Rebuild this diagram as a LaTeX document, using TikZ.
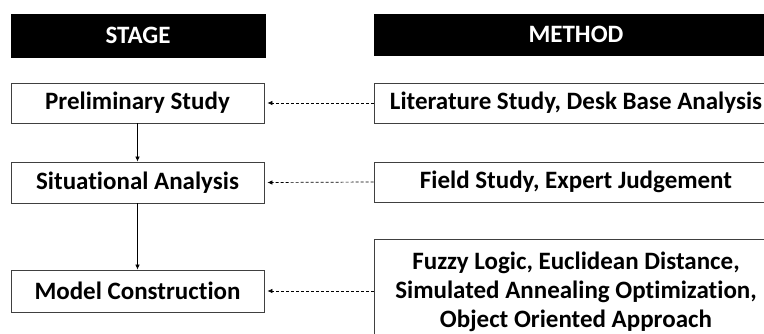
\documentclass[tikz,border=0pt]{standalone}
\usepackage{fontspec}
\setmainfont{Carlito}[Ligatures=NoCommon]
\usetikzlibrary{arrows.meta}
\begin{document}
\begin{tikzpicture}[x=1pt,y=-1pt,
  hdr/.style={fill=black, draw=black, text=white, font=\bfseries\fontsize{25}{28}\selectfont, inner sep=0pt},
  stagebox/.style={draw=black!75, line width=0.8pt, fill=white, font=\bfseries\fontsize{25}{28}\selectfont, inner sep=0pt},
  methbox/.style={draw=black!75, line width=0.8pt, fill=white, font=\bfseries\fontsize{25}{28}\selectfont, inner sep=0pt, align=center},
  flow/.style={-{Latex[length=5pt,width=4.5pt]}, line width=0.7pt},
  feed/.style={-{Latex[length=5pt,width=4.5pt]}, line width=0.7pt, dash pattern=on 3pt off 2pt}]
\useasboundingbox (0,0) rectangle (764,334);
\clip (0,0) rectangle (764,334);
% headers
\node[hdr, minimum width=254pt, minimum height=43pt] (stage) at (138,35.5) {STAGE};
\node[hdr, minimum width=404pt, minimum height=41pt] (method) at (576,34.5) {METHOD};
% stage boxes
\node[stagebox, minimum width=253pt, minimum height=40pt] (pre) at (137.5,103) {Preliminary Study};
\node[stagebox, minimum width=253pt, minimum height=41pt] (sit) at (137.5,182.5) {Situational Analysis};
\node[stagebox, minimum width=253pt, minimum height=42pt] (mod) at (137.5,291) {Model Construction};
% method boxes
\node[methbox, minimum width=404pt, minimum height=40pt] (lit) at (576,103) {Literature Study, Desk Base Analysis};
\node[methbox, minimum width=404pt, minimum height=40pt] (fld) at (576,182) {Field Study, Expert Judgement};
\node[methbox, minimum width=404pt, minimum height=100pt] (fuz) at (576,289) {};
\node[font=\bfseries\fontsize{25}{29}\selectfont, align=center, inner sep=0pt] (fuztext) at (576,292) {Fuzzy Logic, Euclidean Distance,\\Simulated Annealing Optimization,\\Object Oriented Approach};
% connectors
\draw[flow] (pre) -- (sit);
\draw[flow] (sit) -- (mod);
\draw[feed] (lit.west) -- ([xshift=3pt]pre.east);
\draw[feed] (fld.west) -- ([xshift=3pt]sit.east);
\draw[feed] (fuz.west |- mod.east) -- ([xshift=3pt]mod.east);
\end{tikzpicture}
\end{document}
